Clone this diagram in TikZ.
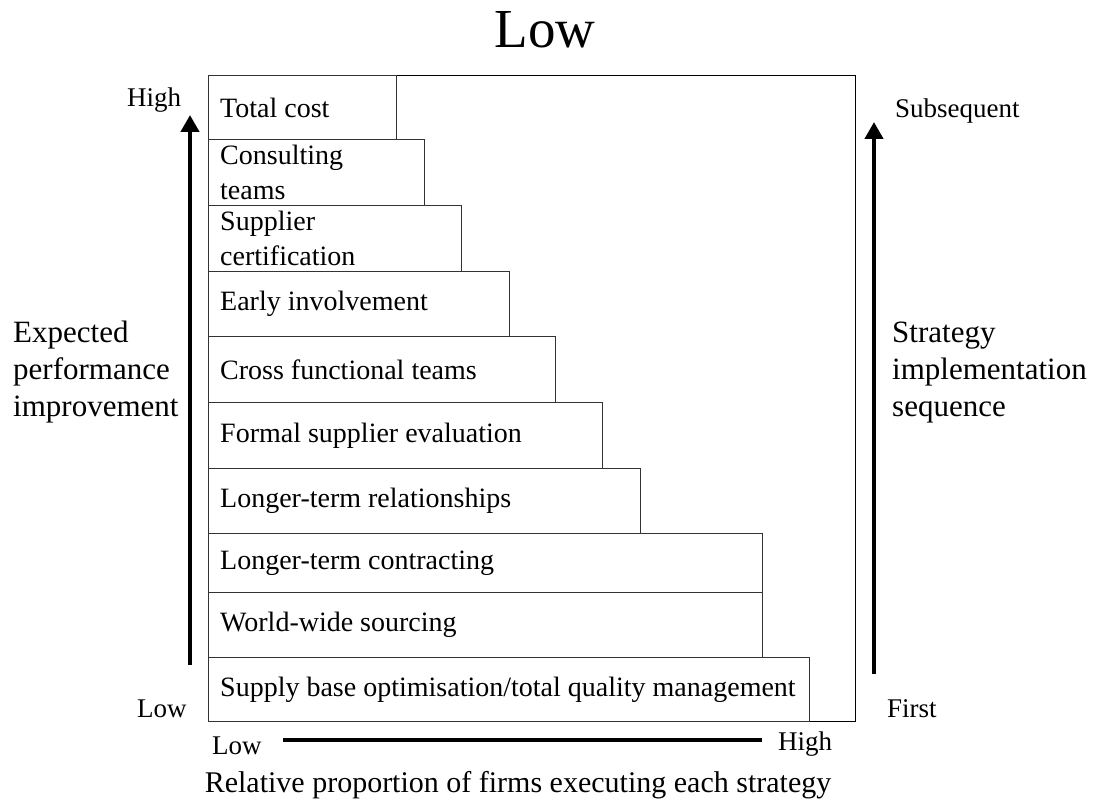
\documentclass[tikz,border=0pt]{standalone}
\usepackage{fontspec}
\setmainfont{Liberation Serif}
\usetikzlibrary{arrows.meta}
\begin{document}
\begin{tikzpicture}[x=1pt,y=-1pt,
  frame/.style={draw=black, line width=1pt, anchor=north west, inner sep=0pt},
  stepbox/.style={draw=black!80, line width=1pt, anchor=north west, inner sep=0pt},
  steptext/.style={anchor=west, inner sep=0pt, align=left, font=\fontsize{28}{35}\selectfont},
  lbl/.style={anchor=base west, inner sep=0pt, font=\fontsize{27}{32}\selectfont},
  side/.style={anchor=base west, inner sep=0pt, align=left, font=\fontsize{31}{37}\selectfont},
  bigarrow/.style={line width=4.5pt, -{Triangle[width=18pt,length=17pt]}},
  axisline/.style={line width=4pt}]
\useasboundingbox (0,0) rectangle (1098,802);

% title
\node[anchor=base, inner sep=0pt, font=\fontsize{55}{60}\selectfont] (title) at (545,48) {Low};

% outer frame
\node[frame, minimum width=647pt, minimum height=646pt] (frm) at (208,75) {};

% stair boxes
\node[stepbox, minimum width=188pt, minimum height=64pt] (b1) at (208,75) {};
\node[stepbox, minimum width=216pt, minimum height=66pt] (b2) at (208,139) {};
\node[stepbox, minimum width=253pt, minimum height=66pt] (b3) at (208,205) {};
\node[stepbox, minimum width=301pt, minimum height=65pt] (b4) at (208,271) {};
\node[stepbox, minimum width=347pt, minimum height=66pt] (b5) at (208,336) {};
\node[stepbox, minimum width=394pt, minimum height=66pt] (b6) at (208,402) {};
\node[stepbox, minimum width=432pt, minimum height=65pt] (b7) at (208,468) {};
\node[stepbox, minimum width=554pt, minimum height=59pt] (b8) at (208,533) {};
\node[stepbox, minimum width=554pt, minimum height=65pt] (b9) at (208,592) {};
\node[stepbox, minimum width=601pt, minimum height=64pt] (b10) at (208,657) {};

\node[steptext] (t1) at ([xshift=12pt]b1.west) {Total cost};
\node[steptext] (t2) at ([xshift=12pt]b2.west) {Consulting\\teams};
\node[steptext] (t3) at ([xshift=12pt]b3.west) {Supplier\\certification};
\node[steptext] (t4) at ([xshift=12pt]b4.west) {Early involvement};
\node[steptext] (t5) at ([xshift=12pt]b5.west) {Cross functional teams};
\node[steptext] (t6) at ([xshift=12pt]b6.west) {Formal supplier evaluation};
\node[steptext] (t7) at ([xshift=12pt]b7.west) {Longer-term relationships};
\node[steptext] (t8) at ([xshift=12pt]b8.west) {Longer-term contracting};
\node[steptext] (t9) at ([xshift=12pt]b9.west) {World-wide sourcing};
\node[steptext] (t10) at ([xshift=12pt]b10.west) {Supply base optimisation/total quality management};

% left axis
\coordinate (la0) at (190,665);
\coordinate (la1) at (190,115);
\draw[bigarrow] (la0) -- (la1);
\node[lbl] (lhigh) at (127,107) {High};
\node[lbl] (llow) at (137,717) {Low};
\node[side] (lside) at (13,416) {Expected\\performance\\improvement};

% right axis
\coordinate (ra0) at (874,674);
\coordinate (ra1) at (874,122);
\draw[bigarrow] (ra0) -- (ra1);
\node[lbl] (rhigh) at (895,118) {Subsequent};
\node[lbl] (rlow) at (887,717) {First};
\node[side] (rside) at (892,416) {Strategy\\implementation\\sequence};

% bottom axis
\coordinate (ba0) at (283,740);
\coordinate (ba1) at (762,740);
\draw[axisline] (ba0) -- (ba1);
\node[lbl] (blow) at (212,754) {Low};
\node[lbl] (bhigh) at (778,750) {High};
\node[anchor=base, inner sep=0pt, font=\fontsize{30}{36}\selectfont] (bcap) at (518,792) {Relative proportion of firms executing each strategy};
\end{tikzpicture}
\end{document}
